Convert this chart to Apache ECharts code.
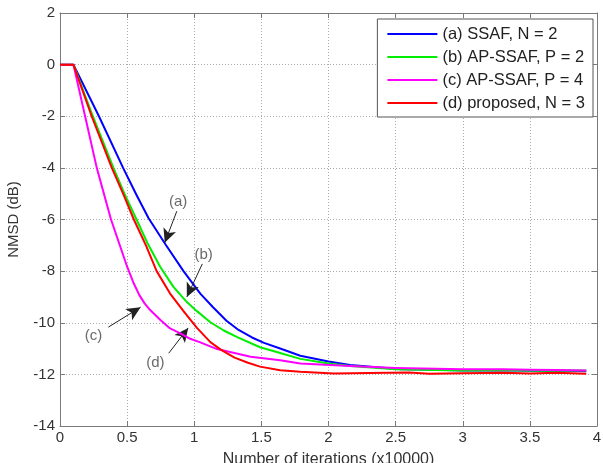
<!DOCTYPE html>
<html>
<head>
<meta charset="utf-8">
<script src="https://cdn.jsdelivr.net/npm/echarts@6/dist/echarts.min.js"></script>
<style>
  html, body { margin: 0; padding: 0; background: #fff; }
  #chart { width: 603px; height: 463px; }
</style>
</head>
<body>
<div id="chart"></div>
<script>
// x in units of 10000 iterations, y in dB
const ssafN2 = [
  [0, 0], [0.1, 0], [0.29, -2], [0.47, -4], [0.57, -5.05], [0.66, -5.95], [0.79, -7.0],
  [0.92, -8], [1.045, -8.87], [1.14, -9.4], [1.24, -9.92], [1.33, -10.28],
  [1.43, -10.57], [1.52, -10.78], [1.64, -11.0], [1.79, -11.28], [2.0, -11.5],
  [2.16, -11.64], [2.54, -11.8], [2.8, -11.82], [3.0, -11.85], [3.3, -11.84],
  [3.5, -11.86], [3.7, -11.85], [3.92, -11.88]
]
const apSsafP2 = [
  [0, 0], [0.1, 0], [0.245, -2], [0.398, -4], [0.48, -5], [0.57, -6], [0.65, -6.9],
  [0.746, -7.83], [0.845, -8.61], [0.945, -9.2], [1.02, -9.55], [1.12, -9.98],
  [1.22, -10.3], [1.32, -10.56], [1.49, -10.95], [1.64, -11.17], [1.79, -11.4],
  [2.0, -11.58], [2.16, -11.68], [2.5, -11.8], [2.8, -11.83], [3.0, -11.85],
  [3.3, -11.84], [3.6, -11.86], [3.92, -11.85]
]
const apSsafP4 = [
  [0, 0], [0.1, 0], [0.187, -2], [0.274, -4], [0.38, -6], [0.5, -7.83],
  [0.55, -8.48], [0.59, -8.92], [0.63, -9.25], [0.67, -9.5], [0.75, -9.9],
  [0.82, -10.22], [0.9, -10.42], [0.97, -10.62], [1.04, -10.75], [1.17, -11.02],
  [1.42, -11.32], [1.64, -11.45], [1.79, -11.58], [2.16, -11.68], [2.5, -11.75],
  [2.8, -11.78], [3.0, -11.8], [3.3, -11.8], [3.5, -11.82], [3.7, -11.83], [3.92, -11.85]
]
const proposedN3 = [
  [0, 0], [0.1, 0], [0.236, -2], [0.386, -4], [0.47, -5], [0.55, -6], [0.64, -7],
  [0.72, -8], [0.82, -8.87], [0.92, -9.55], [1.02, -10.2], [1.12, -10.75],
  [1.2, -11.05], [1.3, -11.35], [1.4, -11.55], [1.49, -11.7], [1.64, -11.84],
  [1.79, -11.9], [2.04, -11.97], [2.3, -11.95], [2.6, -11.93], [2.75, -11.98],
  [3.0, -11.96], [3.3, -11.94], [3.5, -11.97], [3.7, -11.94], [3.92, -11.98]
]

const seriesNames = ['(a) SSAF, N = 2', '(b) AP-SSAF, P = 2', '(c) AP-SSAF, P = 4', '(d) proposed, N = 3']
const seriesColors = ['#0000ff', '#00ee00', '#ff00ff', '#ff0000']

// annotation labels and arrows (data units)
const noteLabels = ['(a)', '(b)', '(c)', '(d)']
const notePos = [[0.88, -5.33], [1.07, -7.38], [0.25, -10.5], [0.71, -11.57]]
const arrowFrom = [[0.87, -5.68], [1.06, -7.72], [0.36, -10.17], [0.81, -11.18]]
const arrowTo = [[0.78, -6.9], [0.945, -9.0], [0.6, -9.4], [0.955, -10.2]]

const xTicks = { min: 0, max: 4, interval: 0.5 }
const yTicks = { min: -14, max: 2, interval: 2 }

const chart = echarts.init(document.getElementById('chart'))

const font = 'Liberation Sans, Arial, sans-serif'
const frame = '#7a7a7a'

const lineSeries = [ssafN2, apSsafP2, apSsafP4, proposedN3].map((d, i) => ({
  name: seriesNames[i],
  type: 'line',
  data: d,
  showSymbol: false,
  smooth: false,
  lineStyle: { color: seriesColors[i], width: 2, join: 'round' },
  itemStyle: { color: seriesColors[i] },
  z: 3 + i
}))

chart.setOption({
  animation: false,
  textStyle: { fontFamily: font },
  grid: { left: 60, top: 13, right: 6, bottom: 37, containLabel: false, outerBoundsMode: 'none' },
  legend: {
    data: seriesNames,
    orient: 'vertical',
    right: 10,
    top: 19,
    backgroundColor: '#fff',
    borderColor: '#555',
    borderWidth: 1,
    padding: [6, 8, 5, 10],
    itemGap: 5,
    itemWidth: 50,
    itemHeight: 2,
    icon: 'rect',
    textStyle: { fontSize: 16.5, color: '#222', fontFamily: font, lineHeight: 18 }
  },
  xAxis: [{
    type: 'value',
    min: xTicks.min, max: xTicks.max, interval: xTicks.interval,
    name: 'Number of iterations (x10000)',
    nameLocation: 'middle',
    nameGap: 26,
    nameTextStyle: { fontSize: 16, color: '#333' },
    axisLine: { show: true, onZero: false, lineStyle: { color: frame } },
    axisTick: { show: true, inside: true, length: 5, lineStyle: { color: frame } },
    axisLabel: { fontSize: 15, color: '#333', margin: 4 },
    splitLine: { show: true, lineStyle: { color: '#aaa', type: [1, 2] } }
  }, {
    type: 'value', position: 'top',
    min: xTicks.min, max: xTicks.max, interval: xTicks.interval,
    axisLine: { show: true, onZero: false, lineStyle: { color: frame } },
    axisTick: { show: true, inside: true, length: 5, lineStyle: { color: frame } },
    axisLabel: { show: false },
    splitLine: { show: false }
  }],
  yAxis: [{
    type: 'value',
    min: yTicks.min, max: yTicks.max, interval: yTicks.interval,
    name: 'NMSD (dB)',
    nameLocation: 'middle',
    nameGap: 39,
    nameTextStyle: { fontSize: 15, color: '#333' },
    axisLine: { show: true, onZero: false, lineStyle: { color: frame } },
    axisTick: { show: true, inside: true, length: 5, lineStyle: { color: frame } },
    axisLabel: { fontSize: 15, color: '#333', margin: 5 },
    splitLine: { show: true, lineStyle: { color: '#aaa', type: [1, 2] } }
  }, {
    type: 'value', position: 'right',
    min: yTicks.min, max: yTicks.max, interval: yTicks.interval,
    axisLine: { show: true, onZero: false, lineStyle: { color: frame } },
    axisTick: { show: true, inside: true, length: 5, lineStyle: { color: frame } },
    axisLabel: { show: false },
    splitLine: { show: false }
  }],
  series: [
    ...lineSeries,
    {
      name: 'notes',
      type: 'scatter',
      symbolSize: 0,
      silent: true,
      z: 10,
      data: notePos.map((p, i) => ({ value: p, name: noteLabels[i] })),
      label: {
        show: true,
        position: [0, 0],
        align: 'center',
        verticalAlign: 'middle',
        formatter: p => p.name,
        fontSize: 15,
        color: '#444',
        fontFamily: font
      },
      markLine: {
        silent: true,
        symbol: ['none', 'arrow'],
        symbolSize: [10, 14],
        label: { show: false },
        lineStyle: { color: '#222', width: 1, type: 'solid' },
        emphasis: { disabled: true },
        data: arrowFrom.map((f, i) => [{ coord: f }, { coord: arrowTo[i] }])
      }
    }
  ]
})
</script>
</body>
</html>
